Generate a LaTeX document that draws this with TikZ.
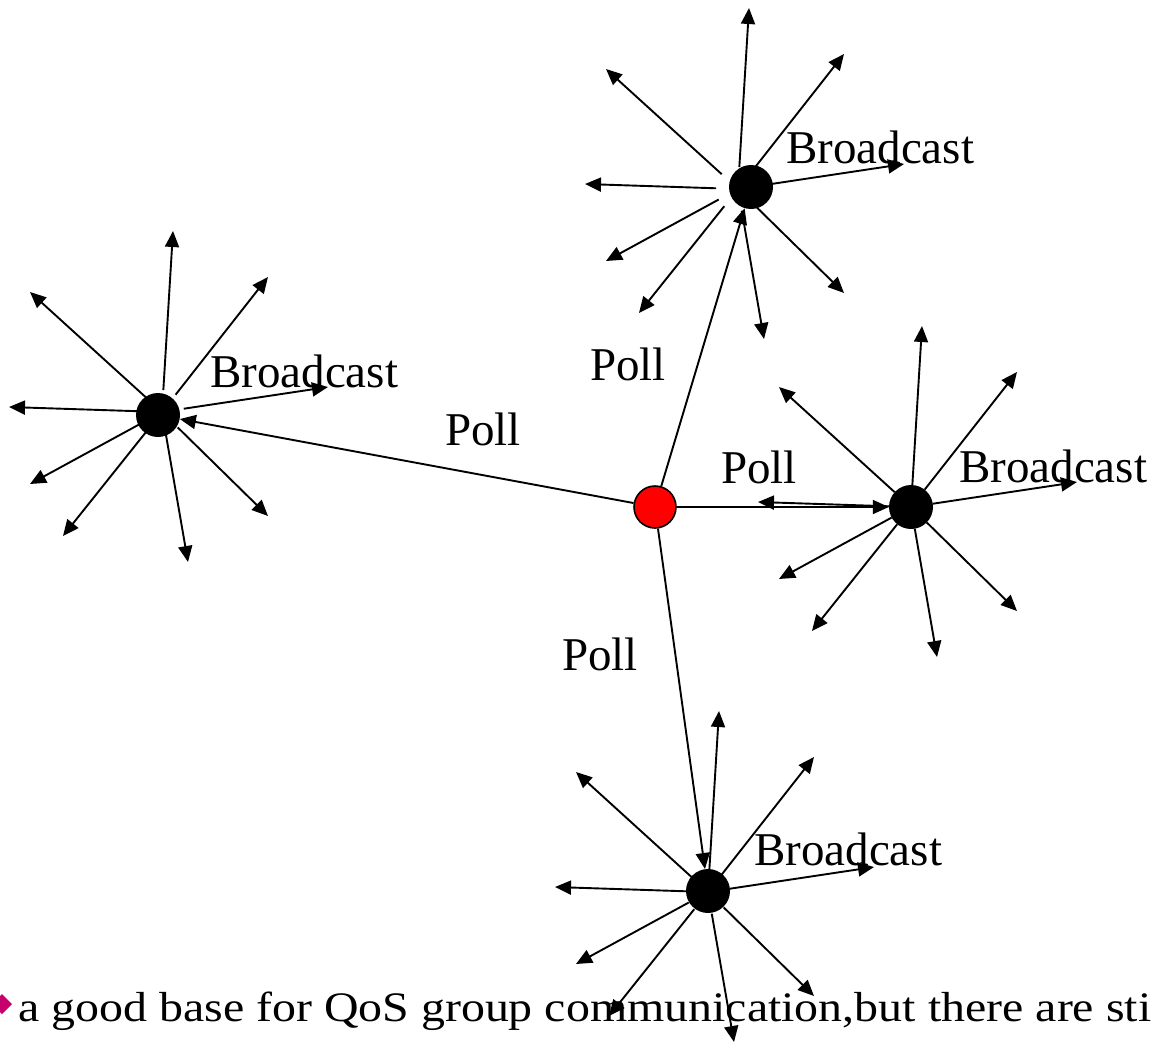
\documentclass[tikz,border=0pt]{standalone}
\usepackage{fontspec}
\setmainfont{Liberation Serif}
\usetikzlibrary{arrows.meta}
\definecolor{bulletmag}{RGB}{200,0,110}
\tikzset{
  tip/.style={-{Triangle[length=16pt,width=14pt]}},
  ray/.style={line width=1.9pt,tip,shorten <=22pt},
  poll/.style={line width=1.9pt,tip},
  station/.style={circle,fill=black,inner sep=0pt,minimum size=44pt},
  master/.style={circle,fill=red,draw=black,line width=1.6pt,inner sep=0pt,minimum size=42pt},
  lbl/.style={anchor=base west,inner sep=0pt,font=\fontsize{47}{50}\selectfont},
  burst/.pic={
    \coordinate (-o) at (0,0);
    \foreach \i/\dx/\dy in {1/11/-181,2/106/-135,3/-132/-120,4/-153/-5,5/166/-25,6/-132/72,7/-99/124,8/26/150,9/106/104}{
      \coordinate (-t\i) at (\dx,\dy);
      \draw[ray] (-o) -- (-t\i);
    }
  }
}
\begin{document}
\begin{tikzpicture}[x=1pt,y=-1pt]
\useasboundingbox (0,0) rectangle (1153,1044);
% bursts of broadcast arrows
\pic (bl) at (162,412) {burst};
\pic (bt) at (738,189) {burst};
\pic (br) at (911,507) {burst};
\pic (bb) at (708,892) {burst};
% stations
\node[station] (L) at (158,415) {};
\node[station] (T) at (751,187) {};
\node[station] (R) at (911,507) {};
\node[station] (B) at (708,891) {};
\node[master] (C) at (655,507) {};
% poll connectors
\draw[poll] (C) -- (L);
\draw[poll] (C) -- (T);
\draw[poll] (C) -- (R);
\draw[poll] (C) -- (B);
% labels
\node[lbl] (p1) at (445,445) {Poll};
\node[lbl] (p2) at (590,380) {Poll};
\node[lbl] (p3) at (721,483) {Poll};
\node[lbl] (p4) at (562,670) {Poll};
\node[lbl] (b1) at (210,387) {Broadcast};
\node[lbl] (b2) at (786,163) {Broadcast};
\node[lbl] (b3) at (959,482) {Broadcast};
\node[lbl] (b4) at (754,865) {Broadcast};
% bottom line of text
\fill[bulletmag] (12,1004) -- (2,994) -- (-8,1004) -- (2,1014) -- cycle;
\node[anchor=base west,inner sep=0pt,font=\fontsize{42}{44}\selectfont] (txt) at (18,1021)
  {\resizebox{1133pt}{\height}{a good base for QoS group communication,but there are sti}};
\end{tikzpicture}
\end{document}
